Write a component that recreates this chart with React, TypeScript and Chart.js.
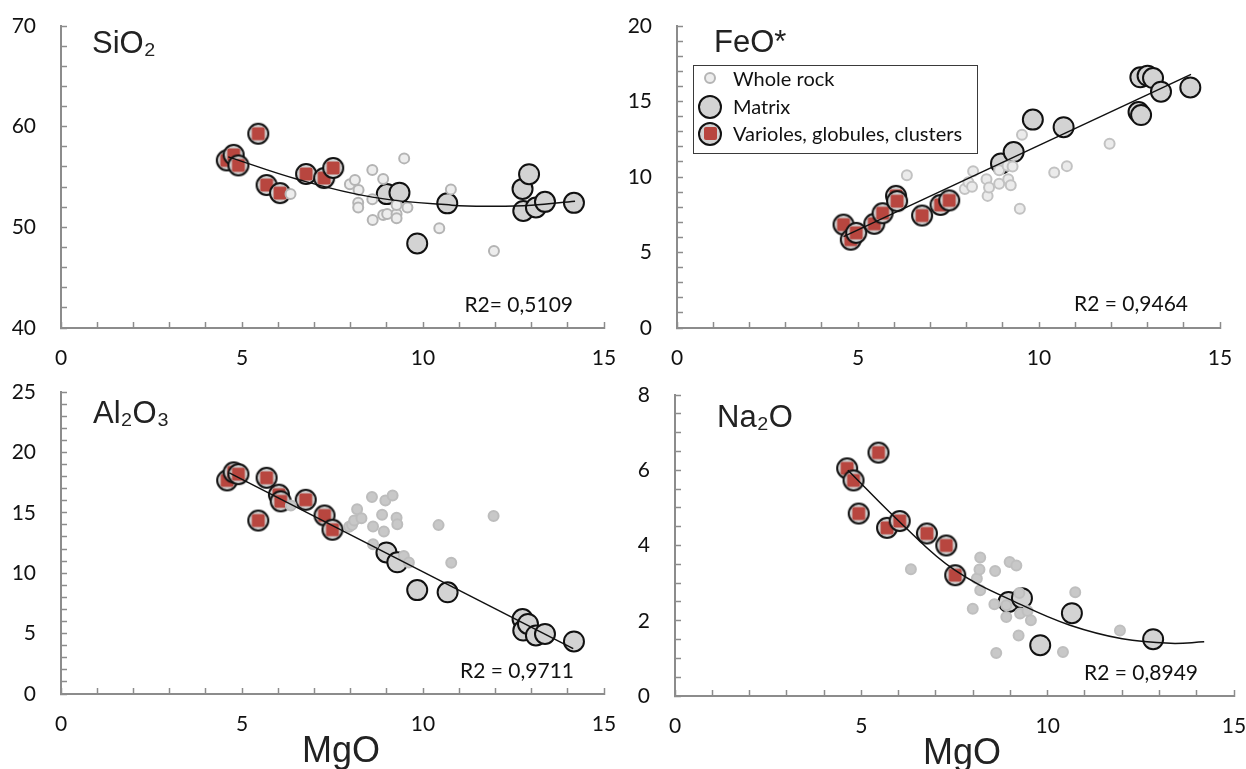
import React, { useEffect, useRef } from 'react';
import { Chart, registerables } from 'chart.js';

Chart.register(...registerables);

type Pt = [number, number];

// ---------------- DATA (MgO, oxide wt%) ----------------
const siO2WholeRock: Pt[] = [[6.34,53.3],[7.98,54.27],[8.12,54.7],[8.22,53.7],[8.21,52.45],[8.21,51.98],[8.6,55.69],[8.6,52.78],[8.61,50.72],[8.9,54.8],[8.9,51.22],[9.01,51.32],[9.27,51.32],[9.27,50.89],[9.27,52.21],[9.48,56.85],[9.57,51.98],[10.45,49.9],[10.77,53.77],[11.96,47.65]];
const siO2Matrix: Pt[] = [[9.0,53.3],[9.35,53.44],[9.84,48.4],[10.67,52.38],[12.75,53.82],[12.77,51.63],[12.93,55.28],[13.12,51.97],[13.37,52.53],[14.17,52.43]];
const siO2Varioles: Pt[] = [[4.58,56.65],[4.77,57.2],[4.9,56.15],[5.45,59.3],[5.68,54.2],[6.05,53.4],[6.77,55.3],[7.27,54.9],[7.52,55.9]];
const siO2Trend: Pt[] = [[4.62,57.0],[6.6,54.7],[8.6,53.0],[10.8,52.2],[12.0,52.1],[13.0,52.2],[14.2,52.6]];

const feOWholeRock: Pt[] = [[6.35,10.12],[7.95,9.2],[8.05,9.65],[8.15,9.35],[8.18,10.38],[8.55,9.85],[8.58,8.75],[8.62,9.3],[8.9,10.45],[8.9,9.55],[9.15,9.85],[9.22,9.45],[9.13,10.75],[9.27,10.7],[9.47,7.9],[9.53,12.8],[10.42,10.3],[10.77,10.72],[11.95,12.2]];
const feOMatrix: Pt[] = [[8.95,10.9],[9.3,11.65],[9.83,13.8],[10.68,13.3],[12.75,14.3],[12.82,14.1],[12.8,16.6],[13.0,16.7],[13.15,16.55],[13.37,15.65],[14.18,15.93]];
const feOVarioles: Pt[] = [[4.6,6.85],[4.8,5.85],[4.95,6.3],[5.45,6.9],[5.68,7.6],[6.05,8.75],[6.08,8.4],[6.77,7.45],[7.28,8.15],[7.52,8.45]];
const feOTrend: Pt[] = [[4.6,6.05],[14.2,16.8]];

const al2O3WholeRock: Pt[] = [[6.35,15.6],[7.96,13.85],[8.04,14.0],[8.1,14.36],[8.18,15.3],[8.3,14.55],[8.59,16.3],[8.62,13.86],[8.62,12.4],[8.87,14.83],[8.92,13.45],[8.96,16.02],[9.16,16.44],[9.27,14.6],[9.29,14.05],[9.47,11.43],[9.61,10.88],[10.43,13.98],[10.78,10.86],[11.95,14.73]];
const al2O3Matrix: Pt[] = [[8.99,11.72],[9.29,10.9],[9.84,8.6],[10.68,8.42],[12.75,6.2],[12.77,5.25],[12.9,5.8],[13.12,4.85],[13.37,4.97],[14.17,4.35]];
const al2O3Varioles: Pt[] = [[4.59,17.68],[4.77,18.35],[4.9,18.2],[5.45,14.36],[5.68,17.9],[6.02,16.5],[6.07,15.95],[6.76,16.08],[7.28,14.78],[7.5,13.6]];
const al2O3Trend: Pt[] = [[4.65,18.3],[14.15,3.75]];

const na2OWholeRock: Pt[] = [[6.33,3.37],[7.99,2.32],[8.1,3.12],[8.17,3.36],[8.19,3.68],[8.19,2.81],[8.57,2.44],[8.59,3.32],[8.62,1.14],[8.89,2.41],[8.89,2.1],[8.98,3.56],[9.16,3.47],[9.22,1.61],[9.24,2.74],[9.26,2.19],[9.46,2.26],[9.55,2.01],[10.41,1.17],[10.74,2.76],[11.94,1.74]];
const na2OMatrix: Pt[] = [[8.95,2.5],[9.31,2.6],[9.8,1.35],[10.65,2.2],[12.83,1.51]];
const na2OVarioles: Pt[] = [[4.62,6.05],[4.79,5.73],[4.93,4.85],[5.46,6.47],[5.69,4.47],[6.03,4.65],[6.76,4.32],[7.28,4.0],[7.52,3.21]];
const na2OTrend: Pt[] = [[4.64,6.0],[6.1,4.56],[7.5,3.35],[9.3,2.42],[10.6,1.88],[12.0,1.52],[13.3,1.4],[14.2,1.44]];

const xTickLabels = [0, 5, 10, 15];
const legendLabels = ['Whole rock', 'Matrix', 'Varioles, globules, clusters'];

// ---------------- LAYOUT ----------------
interface PanelSpec {
  left: number; top: number; width: number; height: number;
  areaL: number; areaR: number; areaT: number; areaB: number;
  yMin: number; yMax: number; yStep: number; yLabelEvery: number;
  whole: Pt[]; matrix: Pt[]; vari: Pt[]; trend: Pt[]; tension: number;
  wholeFill: string; wholeBorder: string;
}

const panels: PanelSpec[] = [
  { left: 0, top: 0, width: 623, height: 384, areaL: 61, areaR: 604, areaT: 26, areaB: 328,
    yMin: 40, yMax: 70, yStep: 2, yLabelEvery: 10,
    whole: siO2WholeRock, matrix: siO2Matrix, vari: siO2Varioles, trend: siO2Trend, tension: 0.4,
    wholeFill: '#ededed', wholeBorder: '#b4b4b4' },
  { left: 623, top: 0, width: 623, height: 384, areaL: 54, areaR: 597, areaT: 26, areaB: 328,
    yMin: 0, yMax: 20, yStep: 1, yLabelEvery: 5,
    whole: feOWholeRock, matrix: feOMatrix, vari: feOVarioles, trend: feOTrend, tension: 0,
    wholeFill: '#ebebeb', wholeBorder: '#c2c2c2' },
  { left: 0, top: 360, width: 623, height: 409, areaL: 61, areaR: 604, areaT: 32, areaB: 334,
    yMin: 0, yMax: 25, yStep: 1, yLabelEvery: 5,
    whole: al2O3WholeRock, matrix: al2O3Matrix, vari: al2O3Varioles, trend: al2O3Trend, tension: 0,
    wholeFill: '#c8c8c8', wholeBorder: '#bdbdbd' },
  { left: 623, top: 360, width: 623, height: 409, areaL: 52, areaR: 611, areaT: 35, areaB: 336,
    yMin: 0, yMax: 8, yStep: 0.5, yLabelEvery: 2,
    whole: na2OWholeRock, matrix: na2OMatrix, vari: na2OVarioles, trend: na2OTrend, tension: 0.4,
    wholeFill: '#c8c8c8', wholeBorder: '#bfbfbf' },
];

const AXIS = '#8c8c8c';
const RED = '#b8463f';
const TICK_FONT = { family: 'Lato, "Open Sans", sans-serif', size: 21 };

function makeVariole(): HTMLCanvasElement {
  const c = document.createElement('canvas');
  c.width = 26; c.height = 26;
  const g = c.getContext('2d')!;
  g.beginPath();
  g.arc(13, 13, 10, 0, Math.PI * 2);
  g.fillStyle = '#d2d2d2';
  g.fill();
  g.lineWidth = 2;
  g.strokeStyle = '#111';
  g.stroke();
  g.fillStyle = RED;
  g.beginPath();
  if ((g as any).roundRect) (g as any).roundRect(6.5, 6.5, 13, 13, 2);
  else g.rect(6.5, 6.5, 13, 13);
  g.fill();
  return c;
}

const toXY = (a: Pt[]) => a.map(([x, y]) => ({ x, y }));

function Panel({ p }: { p: PanelSpec }) {
  const ref = useRef<HTMLCanvasElement>(null);
  useEffect(() => {
    if (!ref.current) return;
    const img = makeVariole();
    const chart = new Chart(ref.current, {
      type: 'scatter',
      data: {
        datasets: [
          { label: 'trend', data: toXY(p.trend), showLine: true, borderColor: '#111', borderWidth: 1.5,
            pointRadius: 0, tension: p.tension, fill: false } as any,
          { label: legendLabels[0], data: toXY(p.whole), pointRadius: 5, pointBorderWidth: 2,
            pointBackgroundColor: p.wholeFill, pointBorderColor: p.wholeBorder },
          { label: legendLabels[2], data: toXY(p.vari), pointRadius: 10, pointStyle: img as any },
          { label: legendLabels[1], data: toXY(p.matrix), pointRadius: 10, pointBorderWidth: 2,
            pointBackgroundColor: '#d3d3d3', pointBorderColor: '#111' },
        ],
      },
      options: {
        animation: false,
        responsive: false,
        maintainAspectRatio: false,
        events: [],
        layout: { padding: { left: 0, top: p.areaT, right: p.width - p.areaR, bottom: 0 } },
        plugins: { legend: { display: false }, tooltip: { enabled: false } },
        scales: {
          x: {
            type: 'linear', min: 0, max: 15,
            ticks: {
              stepSize: 1, autoSkip: false, maxRotation: 0, minRotation: 0, padding: 24,
              font: TICK_FONT, color: '#111',
              callback: (v: any) => (xTickLabels.includes(Number(v)) ? String(v) : ''),
            },
            grid: { drawOnChartArea: false, drawTicks: true, tickLength: -6, tickColor: AXIS, tickWidth: 1.5 },
            border: { display: true, color: AXIS, width: 2 },
            afterFit: (s: any) => { s.height = p.height - p.areaB; s.paddingLeft = 0; s.paddingRight = 0; },
          },
          y: {
            type: 'linear', min: p.yMin, max: p.yMax,
            ticks: {
              stepSize: p.yStep, autoSkip: false, padding: 31,
              font: TICK_FONT, color: '#111',
              callback: (v: any) => (Math.abs(Number(v) / p.yLabelEvery - Math.round(Number(v) / p.yLabelEvery)) < 1e-6 ? String(v) : ''),
            },
            grid: { drawOnChartArea: false, drawTicks: true, tickLength: -6, tickColor: AXIS, tickWidth: 1.5 },
            border: { display: true, color: AXIS, width: 2 },
            afterFit: (s: any) => { s.width = p.areaL; s.paddingTop = 0; s.paddingBottom = 0; },
          },
        },
      } as any,
    });
    return () => chart.destroy();
  }, [p]);
  return (
    <canvas ref={ref} width={p.width} height={p.height}
      style={{ position: 'absolute', left: p.left, top: p.top, width: p.width, height: p.height, display: 'block' }} />
  );
}

const TITLE_FONT = '"Liberation Sans", Arial, sans-serif';
const BODY_FONT = 'Lato, "Open Sans", sans-serif';

function Txt(props: { x: number; y: number; size: number; family: string; text: string; align?: 'left' | 'right' | 'center'; w?: number; color?: string }) {
  const { x, y, size, family, text, align = 'left', w = 300, color = '#222' } = props;
  const left = align === 'left' ? x : align === 'right' ? x - w : x - w / 2;
  return (
    <div style={{ position: 'absolute', left, top: y, width: w, textAlign: align, fontSize: size, fontFamily: family,
      lineHeight: 1, whiteSpace: 'nowrap', color }}>{text}</div>
  );
}

function Dot({ cx, cy, r, fill, stroke, bw }: { cx: number; cy: number; r: number; fill: string; stroke: string; bw: number }) {
  return (
    <div style={{ position: 'absolute', left: cx - r - bw / 2, top: cy - r - bw / 2, width: 2 * r - bw, height: 2 * r - bw,
      borderRadius: '50%', background: fill, border: `${bw}px solid ${stroke}` }} />
  );
}

export default function App() {
  return (
    <div style={{ position: 'absolute', left: 0, top: 0, width: 1246, height: 769, overflow: 'hidden', background: '#fff' }}>
      {panels.map((p, i) => <Panel key={i} p={p} />)}

      <Txt x={92} y={26.8} size={31} family={TITLE_FONT} text="SiO₂" />
      <Txt x={714} y={25.5} size={31} family={TITLE_FONT} text="FeO*" />
      <Txt x={93} y={396.8} size={31} family={TITLE_FONT} text="Al₂O₃" />
      <Txt x={717} y={400.5} size={31} family={TITLE_FONT} text="Na₂O" />

      <Txt x={573} y={293} size={21} family={BODY_FONT} text="R2= 0,5109" align="right" color="#111" />
      <Txt x={1188} y={292} size={21} family={BODY_FONT} text="R2 = 0,9464" align="right" color="#111" />
      <Txt x={574} y={659} size={21} family={BODY_FONT} text="R2 = 0,9711" align="right" color="#111" />
      <Txt x={1198} y={661} size={21} family={BODY_FONT} text="R2 = 0,8949" align="right" color="#111" />

      <Txt x={341} y={732} size={36} family={TITLE_FONT} text="MgO" align="center" />
      <Txt x={962} y={734} size={36} family={TITLE_FONT} text="MgO" align="center" />

      {/* legend */}
      <div style={{ position: 'absolute', left: 693, top: 65, width: 283, height: 87, border: '1px solid #3a3a3a', background: '#fff' }} />
      <Dot cx={710} cy={78} r={5} fill="#ededed" stroke="#b4b4b4" bw={2} />
      <Dot cx={710} cy={106.5} r={11} fill="#d3d3d3" stroke="#111" bw={2} />
      <Dot cx={710} cy={133.5} r={11} fill="#d2d2d2" stroke="#111" bw={2} />
      <div style={{ position: 'absolute', left: 703.5, top: 127, width: 13, height: 13, background: RED, borderRadius: 2 }} />
      <Txt x={733} y={67.7} size={20} family={BODY_FONT} text={legendLabels[0]} color="#111" />
      <Txt x={733} y={96.1} size={20} family={BODY_FONT} text={legendLabels[1]} color="#111" />
      <Txt x={733} y={122.7} size={20} family={BODY_FONT} text={legendLabels[2]} color="#111" />
    </div>
  );
}
